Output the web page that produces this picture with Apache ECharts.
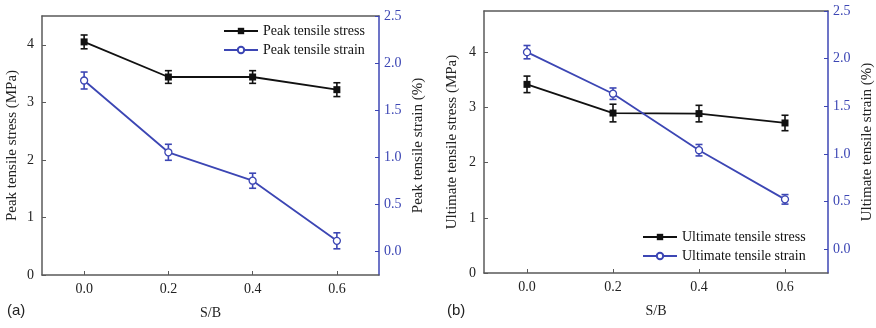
<!DOCTYPE html>
<html>
<head>
<meta charset="utf-8">
<script src="https://cdn.jsdelivr.net/npm/echarts@6/dist/echarts.min.js"></script>
<style>html,body{margin:0;padding:0;background:#fff}#c{width:876px;height:328px}</style>
</head>
<body>
<div id="c"></div>
<script>
// ---- data ----
const sb = [0.0, 0.2, 0.4, 0.6];
const peakStress = [4.05, 3.44, 3.44, 3.22];
const peakStressErr = [0.12, 0.11, 0.11, 0.12];
const peakStrain = [1.815, 1.053, 0.751, 0.113];
const peakStrainErr = [0.09, 0.085, 0.08, 0.085];
const ultStress = [3.42, 2.90, 2.89, 2.72];
const ultStressErr = [0.15, 0.16, 0.15, 0.14];
const ultStrain = [2.068, 1.632, 1.039, 0.523];
const ultStrainErr = [0.07, 0.06, 0.06, 0.05];
const xTicks = [0.0, 0.2, 0.4, 0.6];
const stressTicks = [0, 1, 2, 3, 4];
const strainTicks = [0.0, 0.5, 1.0, 1.5, 2.0, 2.5];

const BLUE = '#3c46b4';
const BLACK = '#111';
const GRAY = '#5a5a5a';
const FONT = 'Liberation Serif';

function pts(xs, ys) { return xs.map((x, i) => [x, ys[i]]); }
function errs(xs, ys, es) { return xs.map((x, i) => [x, ys[i] - es[i], ys[i] + es[i]]); }

function errSeries(data, xi, yi, color) {
  return {
    type: 'custom', xAxisIndex: xi, yAxisIndex: yi, data: data, z: 3, silent: true,
    renderItem: function (params, api) {
      const x = api.value(0), lo = api.value(1), hi = api.value(2);
      const a = api.coord([x, lo]), b = api.coord([x, hi]);
      const w = 3.5;
      const st = { stroke: color, lineWidth: 1.6 };
      return { type: 'group', children: [
        { type: 'line', shape: { x1: a[0], y1: a[1], x2: b[0], y2: b[1] }, style: st },
        { type: 'line', shape: { x1: a[0] - w, y1: a[1], x2: a[0] + w, y2: a[1] }, style: st },
        { type: 'line', shape: { x1: b[0] - w, y1: b[1], x2: b[0] + w, y2: b[1] }, style: st }
      ] };
    }
  };
}

function xAxisBottom(gi) {
  return {
    type: 'value', gridIndex: gi, position: 'bottom', min: -0.1, max: 0.7, interval: 0.1,
    name: 'S/B', nameLocation: 'middle', nameGap: 31,
    nameTextStyle: { fontFamily: FONT, fontSize: 14, color: '#222' },
    axisLine: { onZero: false, lineStyle: { color: GRAY, width: 1.5 } },
    axisTick: { inside: true, length: 4, customValues: xTicks, lineStyle: { color: GRAY } },
    axisLabel: { customValues: xTicks, formatter: v => v.toFixed(1), fontFamily: FONT, fontSize: 14, color: '#222', margin: 7 },
    splitLine: { show: false }
  };
}
function xAxisTop(gi) {
  return {
    type: 'value', gridIndex: gi, position: 'top', min: -0.1, max: 0.7, interval: 0.1,
    axisLine: { onZero: false, lineStyle: { color: GRAY, width: 1.5 } },
    axisTick: { show: false }, axisLabel: { show: false }, splitLine: { show: false }
  };
}
function yLeft(gi, name, max, gap) {
  return {
    type: 'value', gridIndex: gi, position: 'left', min: 0, max: max, interval: 1,
    name: name, nameLocation: 'middle', nameGap: gap, nameRotate: 90,
    nameTextStyle: { fontFamily: FONT, fontSize: 15, color: '#222' },
    axisLine: { show: true, onZero: false, lineStyle: { color: GRAY, width: 1.5 } },
    axisTick: { show: true, inside: true, length: 4, customValues: stressTicks, lineStyle: { color: GRAY } },
    axisLabel: { customValues: stressTicks, fontFamily: FONT, fontSize: 14, color: '#222', margin: 8 },
    splitLine: { show: false }
  };
}
function yRight(gi, name, gap) {
  return {
    type: 'value', gridIndex: gi, position: 'right', min: -0.25, max: 2.5, interval: 0.25,
    name: name, nameLocation: 'middle', nameGap: gap, nameRotate: 90,
    nameTextStyle: { fontFamily: FONT, fontSize: 15, color: '#222' },
    axisLine: { show: true, onZero: false, lineStyle: { color: BLUE, width: 1.5 } },
    axisTick: { show: true, inside: true, length: 4, customValues: strainTicks, lineStyle: { color: BLUE } },
    axisLabel: { customValues: strainTicks, formatter: v => v.toFixed(1), fontFamily: FONT, fontSize: 14, color: BLUE, margin: 5 },
    splitLine: { show: false }
  };
}

function lineSeries(name, data, xi, yi, color, symbol) {
  const isCircle = symbol === 'circle';
  return {
    name: name, type: 'line', xAxisIndex: xi, yAxisIndex: yi, data: data, z: 4,
    symbol: symbol, symbolSize: 7, showAllSymbol: true,
    lineStyle: { color: color, width: 1.8 },
    itemStyle: isCircle ? { color: '#fff', borderColor: color, borderWidth: 1.3 } : { color: color, borderWidth: 0 }
  };
}

const chart = echarts.init(document.getElementById('c'), null, { renderer: 'canvas' });
chart.setOption({
  animation: false,
  backgroundColor: '#fff',
  grid: [
    { left: 42, top: 16, width: 337, height: 259 },
    { left: 484, top: 11, width: 345, height: 262 }
  ],
  xAxis: [xAxisBottom(0), xAxisTop(0), xAxisBottom(1), xAxisTop(1)],
  yAxis: [
    yLeft(0, 'Peak tensile stress (MPa)', 4.5, 22),
    yRight(0, 'Peak tensile strain (%)', 32),
    yLeft(1, 'Ultimate tensile stress (MPa)', 4.75, 24),
    yRight(1, 'Ultimate tensile strain (%)', 32)
  ],
  legend: [
    { orient: 'vertical', left: 223, top: 24, padding: 0, itemGap: 5, itemWidth: 34, itemHeight: 8,
      textStyle: { fontFamily: FONT, fontSize: 14, color: '#111' },
      data: ['Peak tensile stress', 'Peak tensile strain'] },
    { orient: 'vertical', left: 642, top: 230, padding: 0, itemGap: 5, itemWidth: 34, itemHeight: 8,
      textStyle: { fontFamily: FONT, fontSize: 14, color: '#111' },
      data: ['Ultimate tensile stress', 'Ultimate tensile strain'] }
  ],
  graphic: [
    { type: 'text', left: 7, top: 303, style: { text: '(a)', font: '15px "Liberation Sans"', fill: '#222' } },
    { type: 'text', left: 447, top: 303, style: { text: '(b)', font: '15px "Liberation Sans"', fill: '#222' } }
  ],
  series: [
    lineSeries('Peak tensile stress', pts(sb, peakStress), 0, 0, BLACK, 'rect'),
    errSeries(errs(sb, peakStress, peakStressErr), 0, 0, BLACK),
    lineSeries('Peak tensile strain', pts(sb, peakStrain), 0, 1, BLUE, 'circle'),
    errSeries(errs(sb, peakStrain, peakStrainErr), 0, 1, BLUE),
    lineSeries('Ultimate tensile stress', pts(sb, ultStress), 2, 2, BLACK, 'rect'),
    errSeries(errs(sb, ultStress, ultStressErr), 2, 2, BLACK),
    lineSeries('Ultimate tensile strain', pts(sb, ultStrain), 2, 3, BLUE, 'circle'),
    errSeries(errs(sb, ultStrain, ultStrainErr), 2, 3, BLUE)
  ]
});
</script>
</body>
</html>
